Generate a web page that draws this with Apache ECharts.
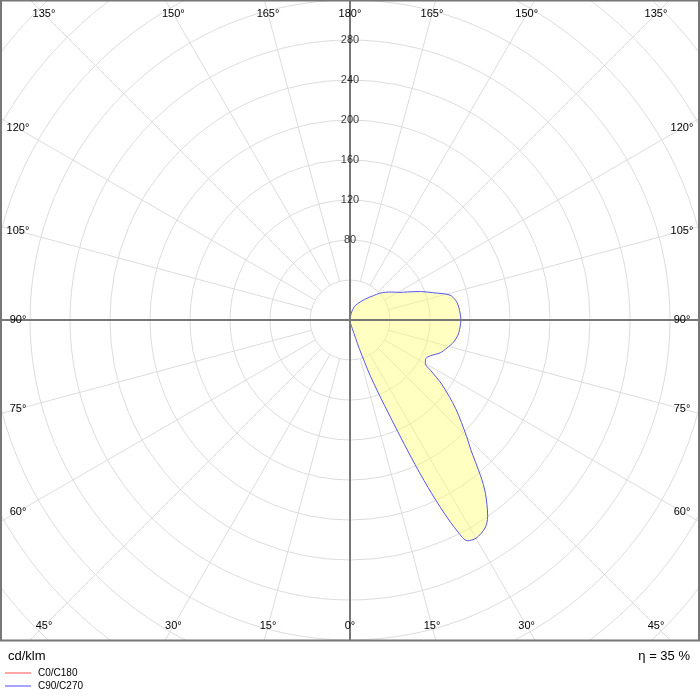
<!DOCTYPE html>
<html><head><meta charset="utf-8">
<script src="https://cdn.jsdelivr.net/npm/echarts@6/dist/echarts.min.js"></script>
<style>html,body{margin:0;padding:0;background:#fff}#c{width:700px;height:700px}</style>
</head><body><div id="c"></div>
<script>
// C90/C270 intensity (cd/klm) at gamma angles (0 = down, towards right side)
const gammaAngles = [0,5,10,15,18,20,22,24,25,26,27,28,30,33,35,38,40,43,45,50,55,58,60,63,66,70,74,78,82,85,90,95,98,100,104,108,112,116,119,124,128,132,136,145,155,162,170,180];
const c90Values   = [0,2,4,9,30,60,92,150,185,215,238,250,252,248,240,220,203,177,165,138,112,95,87,85,88,96,101,106,109,110,111,110,109,108,103,88,76,64,57,50,45,40,34,25,18,14,7,0];
const c0Values = [];
const ringValues = [40,80,120,160,200,240,280,320,360,400,440,480];
const radiusLabels = [80,120,160,200,240,280];
const spokeAngles = [15,30,45,60,75,105,120,135,150,165];
const angleLabels = [0,15,30,45,60,75,90,105,120,135,150,165,180];
const etaText = 'η = 35 %';
const unitText = 'cd/klm';
const legendNames = ['C0/C180','C90/C270'];

const CX=350, CY=320, RMAX=480, FONT='Liberation Sans';
const chart = echarts.init(document.getElementById('c'));
const series = [];
spokeAngles.forEach(a=>{
  [a,360-a].forEach(b=>series.push({type:'line',coordinateSystem:'polar',data:[[40,b],[RMAX,b]],symbol:'none',silent:true,lineStyle:{color:'#dcdcdc',width:1},z:1}));
});
series.push({type:'line',name:legendNames[1],coordinateSystem:'polar',data:gammaAngles.map((g,i)=>[c90Values[i],g]),symbol:'none',smooth:0.3,lineStyle:{color:'#5555ee',width:1},areaStyle:{color:'rgba(255,255,110,0.6)'},z:3});
series.push({type:'line',name:legendNames[0],coordinateSystem:'polar',data:c0Values,symbol:'none',lineStyle:{color:'#ff8888'},z:3});
[[0,180],[90,270]].forEach(p=>series.push({type:'line',coordinateSystem:'polar',data:[[RMAX,p[0]],[0,p[0]],[RMAX,p[1]]],symbol:'none',silent:true,lineStyle:{color:'#777',width:2},z:4}));
series.push({type:'scatter',coordinateSystem:'polar',data:radiusLabels.map(r=>[r,180]),symbolSize:0,z:6,
  label:{show:true,position:'inside',formatter:p=>String(p.value[0]),color:'#000',fontSize:11,fontFamily:FONT}});

const graphics=[];
angleLabels.forEach(a=>{
  const rad=a*Math.PI/180, s=Math.sin(rad), c=Math.cos(rad);
  const t=Math.min(Math.abs(s)>1e-6?332/Math.abs(s):1e9, Math.abs(c)>1e-6?306/Math.abs(c):1e9);
  [1,-1].forEach(side=>{
    if(side===-1 && (a===0||a===180)) return;
    graphics.push({type:'text',x:CX+side*s*t,y:CY+c*t,z:10,style:{text:a+'°',fill:'#000',font:'11px '+FONT,align:'center',verticalAlign:'middle'}});
  });
});
graphics.push({type:'rect',shape:{x:0,y:641,width:700,height:59},style:{fill:'#fff'},z:8});
graphics.push({type:'rect',shape:{x:1,y:0.5,width:698,height:640},style:{fill:'none',stroke:'#777',lineWidth:2},z:9});
graphics.push({type:'text',x:8,y:650,z:10,style:{text:unitText,fill:'#000',font:'13px '+FONT}});
graphics.push({type:'text',x:690,y:650,z:10,style:{text:etaText,fill:'#000',font:'13px '+FONT,align:'right'}});
const legColors=['#ff8888','#8888ff'];
legendNames.forEach((n,i)=>{
  graphics.push({type:'line',shape:{x1:5,y1:673+i*13,x2:31,y2:673+i*13},style:{stroke:legColors[i],lineWidth:1.5},z:10});
  graphics.push({type:'text',x:38,y:673+i*13,z:10,style:{text:n,fill:'#000',font:'10px '+FONT,verticalAlign:'middle'}});
});

chart.setOption({
  animation:false,
  polar:{center:[CX,CY],radius:RMAX},
  angleAxis:{type:'value',min:0,max:360,startAngle:270,clockwise:false,axisLine:{show:false},axisTick:{show:false},axisLabel:{show:false},splitLine:{show:false}},
  radiusAxis:{type:'value',min:0,max:RMAX,interval:40,axisLine:{show:false},axisTick:{show:false},axisLabel:{show:false},splitLine:{show:true,lineStyle:{color:'#dcdcdc',width:1}}},
  series:series,
  graphic:graphics
});
</script></body></html>
